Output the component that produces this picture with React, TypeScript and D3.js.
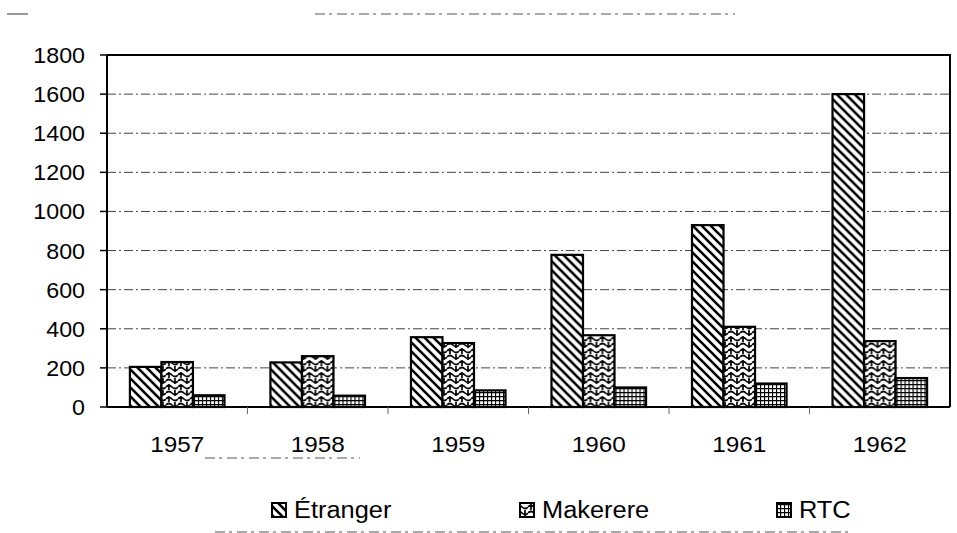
import { useEffect, useRef } from 'react';
import * as d3 from 'd3';

const YEARS = ['1957', '1958', '1959', '1960', '1961', '1962'];
const SERIES = ['Étranger', 'Makerere', 'RTC'];
const ETRANGER = [205, 228, 357, 778, 930, 1600];
const MAKERERE = [230, 260, 327, 367, 410, 337];
const RTC = [60, 58, 85, 100, 120, 148];
const Y_TICKS = [0, 200, 400, 600, 800, 1000, 1200, 1400, 1600, 1800];

const W = 957;
const H = 533;
const PLOT = { left: 107, right: 950, top: 55, bottom: 407 };
const FONT = 'Liberation Sans, Arial, sans-serif';
const PATTERN_IDS = ['pat-diag', 'pat-weave', 'pat-grid'];
// le scan est un peu étiré en largeur
const STRETCH = 1.08;

export default function App() {
  const svgRef = useRef<SVGSVGElement>(null);

  useEffect(() => {
    if (!svgRef.current) return;
    const svg = d3.select(svgRef.current);
    svg.selectAll('*').remove();

    const defs = svg.append('defs');
    // diagonales \\\
    const pd = defs
      .append('pattern')
      .attr('id', PATTERN_IDS[0])
      .attr('patternUnits', 'userSpaceOnUse')
      .attr('width', 9)
      .attr('height', 9);
    pd.append('rect').attr('width', 9).attr('height', 9).attr('fill', '#fff');
    pd.append('path')
      .attr('d', 'M-2,-2 L11,11 M-2,7 L2,11 M7,-2 L11,2')
      .attr('stroke', '#000')
      .attr('stroke-width', 2.6);
    // tissage (Makerere)
    const pw = defs
      .append('pattern')
      .attr('id', PATTERN_IDS[1])
      .attr('patternUnits', 'userSpaceOnUse')
      .attr('width', 12)
      .attr('height', 12);
    pw.append('rect').attr('width', 12).attr('height', 12).attr('fill', '#fff');
    pw.append('path')
      .attr('d', 'M0,3 Q3,0 6,3 Q9,6 12,3 M0,9 Q3,6 6,9 Q9,12 12,9 M3,0 L3,6 M9,6 L9,12')
      .attr('fill', 'none')
      .attr('stroke', '#000')
      .attr('stroke-width', 1.7);
    // quadrillage (RTC)
    const pg = defs
      .append('pattern')
      .attr('id', PATTERN_IDS[2])
      .attr('patternUnits', 'userSpaceOnUse')
      .attr('width', 4)
      .attr('height', 4);
    pg.append('rect').attr('width', 4).attr('height', 4).attr('fill', '#fff');
    pg.append('path')
      .attr('d', 'M0,0.5 L4,0.5 M0.5,0 L0.5,4')
      .attr('stroke', '#000')
      .attr('stroke-width', 1.3);

    const y = d3.scaleLinear().domain([0, 1800]).range([PLOT.bottom, PLOT.top]);
    const x = d3
      .scaleBand<string>()
      .domain(YEARS)
      .range([PLOT.left, PLOT.right])
      .paddingInner(0.327)
      .paddingOuter(0.163);
    const xs = d3.scaleBand<string>().domain(SERIES).range([0, x.bandwidth()]);

    // quadrillage horizontal
    svg
      .append('g')
      .selectAll('line')
      .data(Y_TICKS.filter((t) => t > 0 && t < 1800))
      .join('line')
      .attr('x1', PLOT.left)
      .attr('x2', PLOT.right)
      .attr('y1', (d) => y(d))
      .attr('y2', (d) => y(d))
      .attr('stroke', '#444')
      .attr('stroke-width', 1)
      .attr('stroke-dasharray', '9,3,2,3');

    // cadre
    svg
      .append('path')
      .attr('d', `M${PLOT.left},${PLOT.top} L${PLOT.right},${PLOT.top} L${PLOT.right},${PLOT.bottom}`)
      .attr('fill', 'none')
      .attr('stroke', '#000')
      .attr('stroke-width', 2);

    const rows = YEARS.map((yr, i) => ({ yr, vals: [ETRANGER[i], MAKERERE[i], RTC[i]] }));
    const groups = svg
      .append('g')
      .selectAll('g')
      .data(rows)
      .join('g')
      .attr('transform', (d) => `translate(${x(d.yr)},0)`);
    groups
      .selectAll('rect')
      .data((d) => d.vals.map((v, j) => ({ v, s: SERIES[j], j })))
      .join('rect')
      .attr('x', (d) => xs(d.s)!)
      .attr('y', (d) => y(d.v))
      .attr('width', xs.bandwidth())
      .attr('height', (d) => y(0) - y(d.v))
      .attr('fill', (d) => `url(#${PATTERN_IDS[d.j]})`)
      .attr('stroke', '#000')
      .attr('stroke-width', 2.2);

    const stretch = (sel: d3.Selection<SVGTextElement, any, any, any>) => {
      sel.each(function () {
        const w = this.getComputedTextLength();
        d3.select(this).attr('textLength', w * STRETCH).attr('lengthAdjust', 'spacingAndGlyphs');
      });
    };

    // axe y
    const yAxis = svg.append('g').attr('transform', `translate(${PLOT.left},0)`);
    yAxis
      .append('line')
      .attr('y1', PLOT.top)
      .attr('y2', PLOT.bottom)
      .attr('stroke', '#000')
      .attr('stroke-width', 2);
    yAxis
      .selectAll('line.tick')
      .data(Y_TICKS)
      .join('line')
      .attr('class', 'tick')
      .attr('x1', -7)
      .attr('x2', 0)
      .attr('y1', (d) => y(d))
      .attr('y2', (d) => y(d))
      .attr('stroke', '#000')
      .attr('stroke-width', 1.5);
    yAxis
      .selectAll('text')
      .data(Y_TICKS)
      .join('text')
      .attr('x', -22)
      .attr('y', (d) => y(d) + 8)
      .attr('text-anchor', 'end')
      .style('font-family', FONT)
      .style('font-size', '21.5px')
      .text((d) => d)
      .call(stretch);

    // axe x
    svg
      .append('line')
      .attr('x1', PLOT.left)
      .attr('x2', PLOT.right)
      .attr('y1', PLOT.bottom)
      .attr('y2', PLOT.bottom)
      .attr('stroke', '#000')
      .attr('stroke-width', 2);
    svg
      .append('g')
      .selectAll('line')
      .data(YEARS.slice(1))
      .join('line')
      .attr('x1', (d) => x(d)! - (x.step() - x.bandwidth()) / 2)
      .attr('x2', (d) => x(d)! - (x.step() - x.bandwidth()) / 2)
      .attr('y1', PLOT.bottom)
      .attr('y2', PLOT.bottom + 7)
      .attr('stroke', '#666')
      .attr('stroke-width', 1);
    svg
      .append('g')
      .selectAll('text')
      .data(YEARS)
      .join('text')
      .attr('x', (d) => x(d)! + x.bandwidth() / 2)
      .attr('y', 452)
      .attr('text-anchor', 'middle')
      .style('font-family', FONT)
      .style('font-size', '22.5px')
      .text((d) => d)
      .call(stretch);

    // légende
    const legendX = [272, 520, 777];
    const legend = svg.append('g');
    SERIES.forEach((s, j) => {
      legend
        .append('rect')
        .attr('x', legendX[j])
        .attr('y', 503)
        .attr('width', 14)
        .attr('height', 14)
        .attr('fill', `url(#${PATTERN_IDS[j]})`)
        .attr('stroke', '#000')
        .attr('stroke-width', 2);
      legend
        .append('text')
        .attr('x', legendX[j] + 22)
        .attr('y', 518)
        .style('font-family', FONT)
        .style('font-size', '23.5px')
        .text(s)
        .call(stretch);
    });

    // traces de scan
    svg
      .append('g')
      .selectAll('line')
      .data([
        [7, 14, 28, 14],
        [205, 458, 360, 458],
        [215, 532, 850, 532],
        [315, 14, 735, 14],
      ])
      .join('line')
      .attr('x1', (d) => d[0])
      .attr('y1', (d) => d[1])
      .attr('x2', (d) => d[2])
      .attr('y2', (d) => d[3])
      .attr('stroke', '#555')
      .attr('stroke-width', 1.2)
      .attr('stroke-dasharray', (d, i) => (i === 0 ? null : '10,4,3,5'));
  }, []);

  return (
    <svg
      ref={svgRef}
      width={W}
      height={H}
      viewBox={`0 0 ${W} ${H}`}
      style={{ position: 'absolute', left: 0, top: 0, background: '#fff' }}
    />
  );
}
